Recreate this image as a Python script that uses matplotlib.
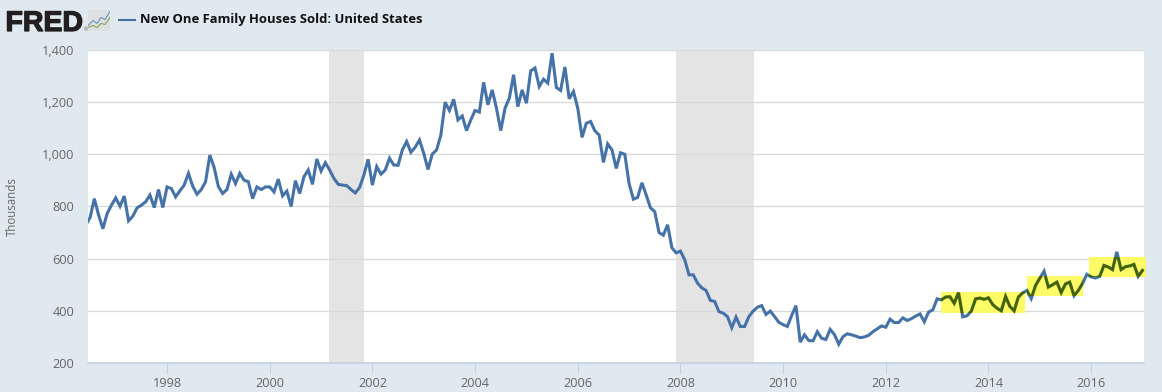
import matplotlib
matplotlib.use('Agg')
import numpy as np
import matplotlib.pyplot as plt
from matplotlib.patches import Rectangle
import matplotlib.patheffects as pe

# monthly values, thousands, one row per year (1996 starts in June)
sold_1996 = [730, 757, 830, 767, 715, 773, 805]
sold_1997 = [833, 801, 840, 745, 763, 795, 805, 818, 844, 796, 865, 796]
sold_1998 = [875, 869, 837, 860, 882, 927, 878, 847, 865, 895, 997, 950]
sold_1999 = [876, 850, 865, 924, 888, 927, 901, 895, 830, 875, 865, 875]
sold_2000 = [875, 856, 905, 841, 859, 800, 899, 850, 914, 940, 885, 982]
sold_2001 = [936, 968, 940, 908, 885, 882, 880, 865, 852, 873, 920, 981]
sold_2002 = [882, 953, 924, 940, 985, 959, 958, 1017, 1049, 1008, 1027, 1055]
sold_2003 = [1004, 942, 1001, 1017, 1074, 1200, 1168, 1211, 1132, 1147, 1091, 1132]
sold_2004 = [1168, 1162, 1276, 1190, 1247, 1177, 1091, 1177, 1215, 1305, 1183, 1247]
sold_2005 = [1196, 1320, 1331, 1260, 1288, 1273, 1388, 1256, 1245, 1335, 1213, 1241]
sold_2006 = [1177, 1065, 1119, 1126, 1090, 1074, 969, 1040, 1017, 946, 1006, 1000]
sold_2007 = [888, 828, 835, 891, 844, 795, 780, 700, 690, 730, 642, 622]
sold_2008 = [629, 596, 538, 538, 506, 488, 478, 440, 436, 397, 391, 378]
sold_2009 = [335, 376, 340, 340, 378, 399, 414, 420, 386, 399, 378, 356]
sold_2010 = [347, 340, 382, 420, 280, 308, 286, 285, 320, 295, 290, 329]
sold_2011 = [309, 272, 301, 312, 308, 303, 297, 300, 306, 320, 331, 342]
sold_2012 = [337, 368, 355, 355, 373, 363, 370, 380, 388, 358, 395, 404]
sold_2013 = [446, 442, 453, 454, 429, 470, 377, 381, 399, 446, 449, 444]
sold_2014 = [450, 424, 410, 400, 455, 417, 400, 453, 469, 478, 447, 497]
sold_2015 = [525, 552, 491, 500, 510, 470, 503, 510, 458, 478, 505, 540]
sold_2016 = [530, 526, 532, 574, 568, 558, 626, 558, 569, 572, 578, 532]
sold_2017 = [555]

values = (sold_1996 + sold_1997 + sold_1998 + sold_1999 + sold_2000 + sold_2001
          + sold_2002 + sold_2003 + sold_2004 + sold_2005 + sold_2006 + sold_2007
          + sold_2008 + sold_2009 + sold_2010 + sold_2011 + sold_2012 + sold_2013
          + sold_2014 + sold_2015 + sold_2016 + sold_2017)
dates = 1996 + (5 + np.arange(len(values))) / 12

recessions = [(2001.16, 2001.84), (2007.92, 2009.43)]
highlights = [(2013.08, 2014.72, 391, 473), (2014.76, 2015.85, 455, 535), (2015.95, 2017.06, 529, 608)]
year_ticks = list(range(1998, 2018, 2))
y_ticks = [200, 400, 600, 800, 1000, 1200, 1400]

BG = '#e1e9f0'
BLUE = '#4572a7'
W, H = 1162, 392

fig = plt.figure(figsize=(W / 100, H / 100), dpi=100, facecolor=BG)
plt.rcParams['font.family'] = ['Open Sans', 'DejaVu Sans']
ax = fig.add_axes([88 / W, 1 - 363 / H, (1144 - 88) / W, (363 - 50) / H])
ax.set_facecolor('white')
ax.set_xlim(1996.46, 2017.03)
ax.set_ylim(200, 1400)

for start, end in recessions:
    ax.axvspan(start, end, color='#e4e4e4', lw=0, zorder=1)
ax.set_yticks(y_ticks, [f'{v:,}' for v in y_ticks])
ax.set_xticks(year_ticks, [str(y) for y in year_ticks])
ax.grid(axis='y', color='#d8d8d8', lw=0.9, zorder=2)
ax.set_axisbelow(False)
for s in ['left', 'right']:
    ax.spines[s].set_visible(False)
ax.spines['top'].set_color('#d8d8d8')
ax.spines['bottom'].set_color('#c0d0e0')
ax.spines['bottom'].set_linewidth(1.1)
ax.tick_params(axis='x', length=7, width=0.8, color='#c0d0e0', labelcolor='#666666', labelsize=9.2, pad=3)
ax.tick_params(axis='y', length=0, labelcolor='#666666', labelsize=9.2, pad=10)
ax.set_ylabel('Thousands', color='#666666', fontsize=8.3)
ax.yaxis.set_label_coords((19 - 88) / (1144 - 88), 0.5)

ax.plot(dates, values, color=BLUE, lw=2.2, zorder=3, solid_joinstyle='miter')

# yellow marker boxes, line looks darkened inside them
for x0, x1, y0, y1 in highlights:
    rect = Rectangle((x0, y0), x1 - x0, y1 - y0, facecolor='#fdfb5e', edgecolor='none',
                     zorder=4, clip_on=False, alpha=0.95)
    ax.add_patch(rect)
    dark, = ax.plot(dates, values, color='#41630f', lw=2.2, zorder=5, solid_joinstyle='miter')
    dark.set_clip_path(rect)

# header
logo = fig.text(5.5 / W, 1 - 31 / H, 'FRED', family='Liberation Sans', weight='bold', fontsize=20.5,
                color='#231f20', va='baseline')
logo.set_path_effects([pe.withStroke(linewidth=0.9, foreground='#231f20')])
fig.text(84 / W, 1 - 31 / H, '®', fontsize=3.5, color='#555555', va='baseline')

icon = fig.add_axes([88 / W, 1 - 30.5 / H, 22 / W, 20 / H])
icon.set_xlim(0, 22)
icon.set_ylim(0, 20)
icon.axis('off')
icon.add_patch(Rectangle((0, 0), 22, 20, facecolor='#dde0e0', edgecolor='none'))
icon.plot([0, 5, 9, 13, 17, 22], [5, 10, 7, 13, 11, 19], color='#6e93b8', lw=0.8)
icon.plot([0, 5, 9, 13, 17, 22], [3, 5, 3, 7, 6, 13], color='#84aa55', lw=0.8)

fig.add_artist(plt.Line2D([119 / W, 135 / W], [1 - 19.5 / H] * 2, color=BLUE, lw=1.5))
fig.text(140 / W, 1 - 19.5 / H, 'New One Family Houses Sold: United States', fontsize=9.37, weight='bold',
         color='#111111', va='center')

fig.savefig('out.png', dpi=100, facecolor=BG)
